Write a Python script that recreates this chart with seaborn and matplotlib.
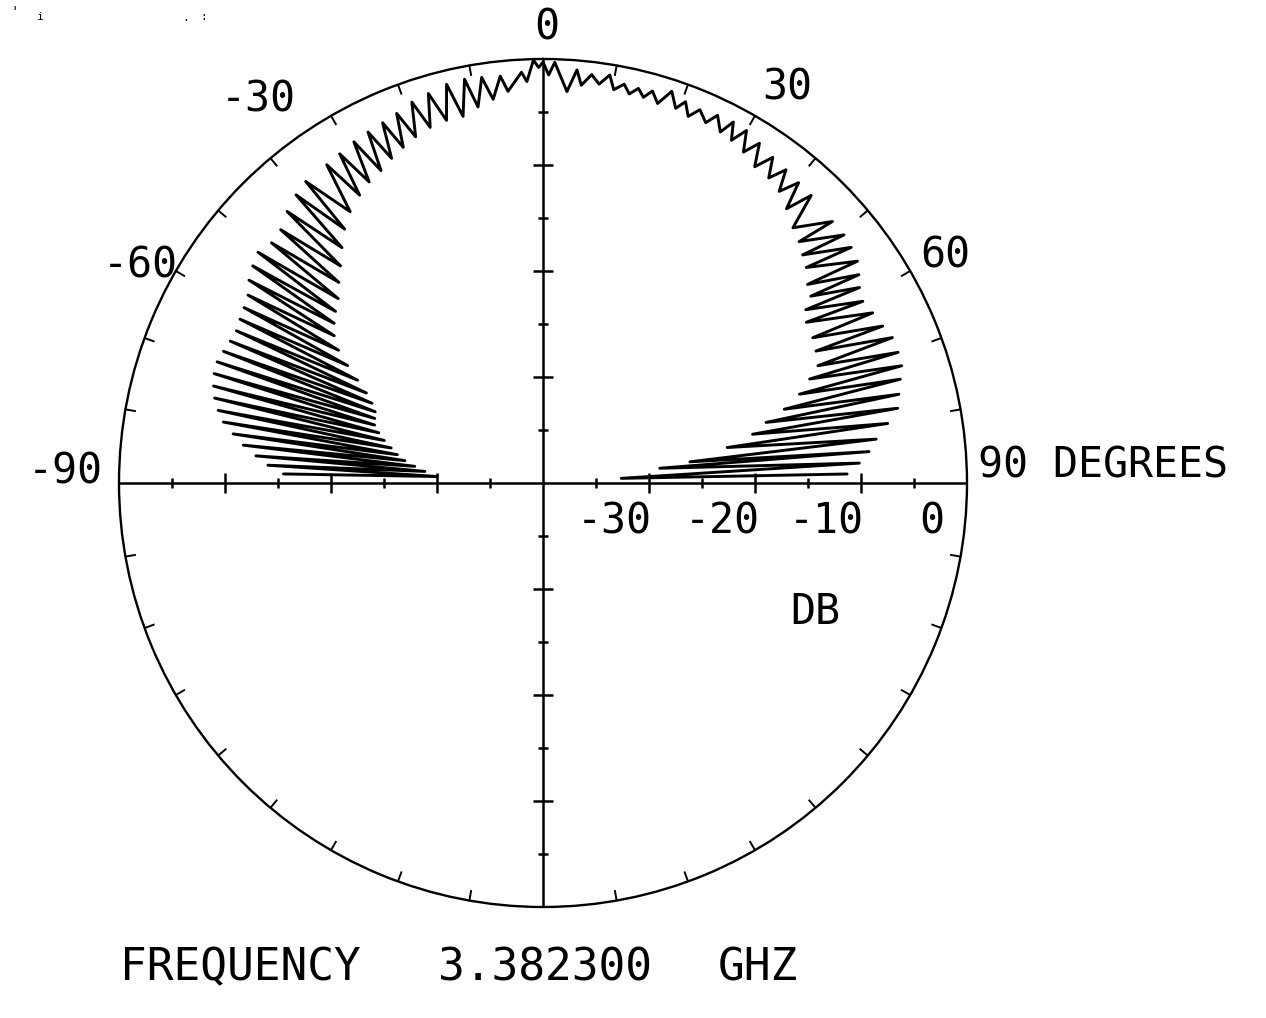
import numpy as np
import pandas as pd
import matplotlib
matplotlib.use("Agg")
import matplotlib.pyplot as plt
import seaborn as sns

# ---------------- data (angle in degrees from boresight, level in dB) ----------------
right_wiggle_deg = [0.0, 0.8, 1.6, 3.5, 4.7, 5.5, 6.8, 8.0, 9.3, 10.2, 11.5, 12.5, 13.6, 14.6,
                    15.6, 16.8, 18.2, 19.5, 20.5, 21.6, 22.8, 24.3, 25.4, 26.8, 27.8, 28.8,
                    30.0, 31.2, 32.5, 33.8, 35.2, 36.5, 37.8, 39.0, 40.4, 41.6, 43.0]
right_wiggle_db = [-0.2, -1.5, -0.3, -3.0, -0.9, -2.3, -1.2, -2.0, -1.0, -2.3, -1.6, -2.4, -1.7, -2.4,
                   -1.6, -2.6, -1.1, -2.5, -1.6, -2.8, -1.8, -2.7, -1.6, -2.9, -1.5, -3.1,
                   -1.6, -3.5, -2.0, -4.1, -2.4, -4.2, -2.6, -4.6, -2.8, -5.4, -2.9]
right_inner_deg = [44.4, 46.7, 48.7, 50.7, 53.1, 55.1, 56.6, 58.6, 61.7, 64.2, 66.9, 68.7, 70.9,
                   73.0, 74.8, 76.9, 79.1, 81.8, 82.8, 86.6]
right_inner_db = [-6.3, -6.8, -7.4, -7.9, -8.8, -9.2, -10.3, -10.9, -11.1, -11.4, -11.8, -13.0, -14.4,
                  -16.2, -18.2, -19.7, -22.3, -26.0, -28.9, -32.6]
right_outer_deg = [47.9, 50.5, 52.6, 54.8, 56.6, 58.3, 60.4, 62.7, 65.2, 67.4, 69.8, 71.9, 73.8,
                   76.0, 78.1, 80.2, 82.5, 84.5, 86.4, 88.3]
right_outer_db = [-3.2, -3.2, -3.4, -3.7, -4.3, -4.9, -5.3, -5.0, -4.7, -4.3, -4.3, -4.4, -4.9,
                  -5.4, -5.8, -7.0, -8.3, -9.1, -10.1, -11.3]

left_wiggle_deg = [0.0, -0.6, -1.3, -2.3, -3.0, -5.1, -6.0, -7.4, -8.6, -9.8, -11.0, -12.3, -13.6,
                   -14.9, -16.4, -17.6, -19.0, -20.2, -21.6, -22.6, -24.0, -25.0, -26.5, -27.4,
                   -29.0, -30.0, -31.7, -32.5, -34.2]
left_wiggle_db = [-0.3, -0.8, -0.1, -2.1, -1.2, -2.9, -1.4, -3.5, -1.3, -4.0, -1.2, -4.6, -1.3,
                  -4.6, -1.7, -4.8, -2.0, -5.2, -2.5, -5.7, -2.8, -6.2, -3.0, -6.8,
                  -3.2, -7.2, -3.5, -7.8, -3.7]
left_inner_deg = [-35.4, -38.0, -40.5, -43.0, -45.5, -48.0, -50.4, -52.6, -54.8, -57.0, -59.0, -61.0,
                  -63.0, -65.0, -67.0, -69.0, -71.0, -73.0, -75.0, -77.0, -79.0, -80.8, -82.6,
                  -84.4, -86.5]
left_inner_db = [-8.6, -9.6, -10.8, -12.0, -13.0, -14.0, -14.6, -15.2, -15.9, -17.0, -18.5, -20.0,
                 -21.3, -22.2, -22.8, -23.0, -23.2, -23.8, -24.5, -25.3, -26.0, -26.8, -27.8,
                 -28.8, -30.0]
left_outer_deg = [-38.2, -40.6, -43.3, -46.0, -48.5, -51.0, -53.2, -55.4, -57.5, -59.6, -61.6, -63.6,
                  -65.6, -67.6, -69.6, -71.6, -73.6, -75.5, -77.4, -79.2, -81.0, -82.8, -84.6,
                  -86.3, -88.0]
left_outer_db = [-3.8, -4.2, -4.8, -5.6, -5.8, -5.4, -5.8, -6.3, -7.0, -7.3, -7.5, -7.7, -7.6,
                 -7.4, -7.2, -7.3, -7.6, -8.0, -8.6, -9.3, -10.4, -11.5, -12.8, -14.0, -15.5]

big_ticks_db = [-30, -20, -10]
small_ticks_db = [-35, -25, -15, -5]
angle_ticks_deg = [a for a in range(0, 360, 10) if a % 90 != 0]
axis_tick_labels = ["-30", "-20", "-10", "0"]


def chain(wdeg, wdb, ideg, idb, odeg, odb):
    a = list(wdeg)
    d = list(wdb)
    for i in range(len(ideg)):
        a += [ideg[i], odeg[i]]
        d += [idb[i], odb[i]]
    return a, d


la, ld = chain(left_wiggle_deg, left_wiggle_db, left_inner_deg, left_inner_db,
               left_outer_deg, left_outer_db)
ra, rd = chain(right_wiggle_deg, right_wiggle_db, right_inner_deg, right_inner_db,
               right_outer_deg, right_outer_db)
ang = la[::-1] + ra[1:]
lev = ld[::-1] + rd[1:]
df = pd.DataFrame({"theta": np.deg2rad(ang), "db": lev})

# ---------------- figure ----------------
sns.set_theme(style="white")
plt.rcParams["font.family"] = ["DejaVu Sans Mono", "DejaVu Sans"]

W, H = 1266, 1018
fig = plt.figure(figsize=(W / 100, H / 100), dpi=100)
fig.patch.set_facecolor("white")
CX, CY, R = 543, 483, 424
ax = fig.add_axes([(CX - R) / W, (H - CY - R) / H, 2 * R / W, 2 * R / H], projection="polar")
ax.set_theta_zero_location("N")
ax.set_theta_direction(-1)
ax.set_ylim(-40, 0)
ax.grid(False)
ax.set_yticks([])
ax.set_xticks([])
ax.spines["polar"].set_linewidth(1.7)
ax.spines["polar"].set_color("black")
ax.set_facecolor("white")

# pattern
sns.lineplot(data=df, x="theta", y="db", sort=False, estimator=None, color="black",
             linewidth=2.1, ax=ax)
ax.set_xlabel("")
ax.set_ylabel("")

# inward angle ticks every 10 degrees on the rim
for a in angle_ticks_deg:
    t = np.deg2rad(a)
    ax.plot([t, t], [0, -1.0], color="black", lw=1.4, solid_capstyle="butt")

# axis lines through the centre
for th in (0, 90, 180, 270):
    ax.plot([np.deg2rad(th)] * 2, [-40, 0], color="black", lw=1.8, solid_capstyle="butt")

# dB ticks on the axes
for th, mk in ((90, "|"), (270, "|"), (0, "_"), (180, "_")):
    t = np.deg2rad(th)
    ax.plot([t] * len(big_ticks_db), big_ticks_db, ls="none", marker=mk, ms=14,
            mew=1.8, color="black", clip_on=False)
    ax.plot([t] * len(small_ticks_db), small_ticks_db, ls="none", marker=mk, ms=7,
            mew=1.8, color="black", clip_on=False)


def ftext(x, y, s, ha="center", size=30):
    fig.text(x / W, 1 - y / H, s, ha=ha, va="center", fontsize=size, color="black")


ftext(547, 28, "0")
ftext(787, 88, "30")
ftext(258, 100, "-30")
ftext(945, 256, "60")
ftext(140, 265, "-60")
ftext(65, 472, "-90")
ftext(978, 466, "90 DEGREES", ha="left")
for lbl, xc in zip(axis_tick_labels, [614, 722, 826, 932]):
    ftext(xc, 521, lbl)
ftext(815, 612, "DB")
ftext(120, 968, "FREQUENCY", ha="left", size=32)
ftext(438, 968, "3.382300", ha="left", size=32)
ftext(718, 968, "GHZ", ha="left", size=32)

# scanner specks in the top-left corner
ftext(15, 12, "'", size=10)
ftext(40, 17, "i", size=8)
ftext(186, 18, ".", size=8)
ftext(204, 17, ":", size=8)

fig.savefig("out.png", dpi=100, facecolor="white")
